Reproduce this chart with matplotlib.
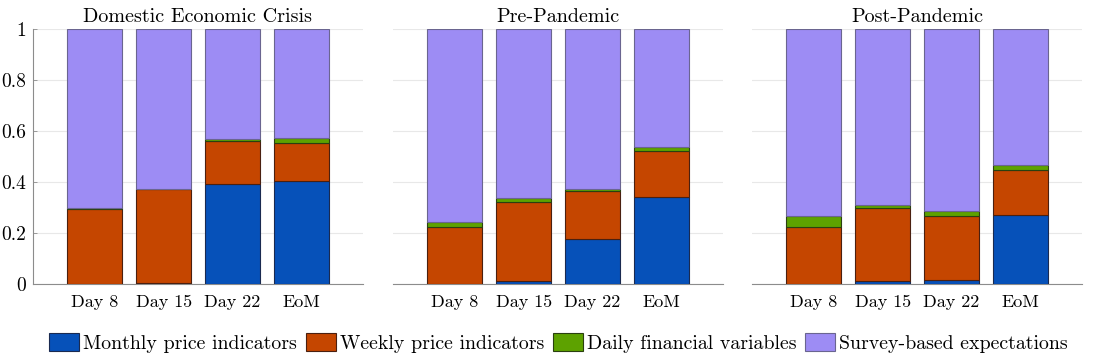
import numpy as np
import matplotlib
matplotlib.use("Agg")
import matplotlib.pyplot as plt
from matplotlib.patches import Patch

plt.rcParams["font.family"] = ["cmr10", "DejaVu Serif"]
plt.rcParams["mathtext.fontset"] = "cm"
plt.rcParams["axes.formatter.use_mathtext"] = True

# ---- data (shares) ----
categories = ["Day 8", "Day 15", "Day 22", "EoM"]
panels = ["Domestic Economic Crisis", "Pre-Pandemic", "Post-Pandemic"]
series = ["Monthly price indicators", "Weekly price indicators",
          "Daily financial variables", "Survey-based expectations"]

monthly = [
    [0.000, 0.002, 0.392, 0.402],
    [0.000, 0.009, 0.176, 0.342],
    [0.000, 0.009, 0.014, 0.270],
]
weekly = [
    [0.292, 0.369, 0.168, 0.150],
    [0.221, 0.313, 0.187, 0.180],
    [0.221, 0.287, 0.251, 0.176],
]
daily = [
    [0.007, 0.002, 0.007, 0.021],
    [0.021, 0.013, 0.009, 0.014],
    [0.046, 0.012, 0.019, 0.019],
]

colors = ["#0651b9", "#c54600", "#5da200", "#9d8cf4"]
edges = ["#1a2a50", "#4a2010", "#2a4010", "#6a6590"]

fig = plt.figure(figsize=(10.95, 3.62), dpi=100)
lefts = [0.0301, 0.3589, 0.6868]
x = np.arange(1, 5)

for k, name in enumerate(panels):
    ax = fig.add_axes([lefts[k], 0.2163, 0.3014, 0.7027])
    m = np.array(monthly[k])
    w = np.array(weekly[k])
    d = np.array(daily[k])
    s = 1.0 - m - w - d
    bottom = np.zeros(4)
    for vals, c, e in zip([m, w, d, s], colors, edges):
        ax.bar(x, vals, 0.8, bottom=bottom, color=c, edgecolor=e, linewidth=0.8,
               zorder=3)
        bottom = bottom + vals
    ax.set_xlim(0.1, 4.9)
    ax.set_ylim(0, 1)
    ax.set_yticks([0, 0.2, 0.4, 0.6, 0.8, 1])
    ax.grid(axis="y", color="#e8e8e8", linewidth=0.8, zorder=0)
    ax.set_xticks(x)
    ax.set_xticklabels(categories, fontsize=13)
    ax.tick_params(axis="x", length=0, pad=8)
    for sp in ["right", "top"]:
        ax.spines[sp].set_visible(False)
    ax.spines["bottom"].set_color("#8c8c8c")
    ax.spines["bottom"].set_linewidth(0.8)
    if k == 0:
        ax.set_yticklabels(["0", "0.2", "0.4", "0.6", "0.8", "1"], fontsize=14)
        ax.tick_params(axis="y", direction="in", length=3, width=0.6,
                       color="#8c8c8c", pad=5)
        ax.spines["left"].set_color("#8c8c8c")
        ax.spines["left"].set_linewidth(0.8)
    else:
        ax.set_yticklabels([])
        ax.tick_params(axis="y", length=0)
        ax.spines["left"].set_visible(False)
    ax.set_title(name, fontsize=14.5, pad=5)

handles = [Patch(facecolor=c, edgecolor=e, linewidth=0.8) for c, e in zip(colors, edges)]
fig.legend(handles, series, loc="center", bbox_to_anchor=(0.51, 0.052), ncol=4,
           frameon=False, fontsize=14.3, handlelength=1.5, handleheight=1.0,
           handletextpad=0.2, columnspacing=0.45)

fig.savefig("out.png", dpi=100)
